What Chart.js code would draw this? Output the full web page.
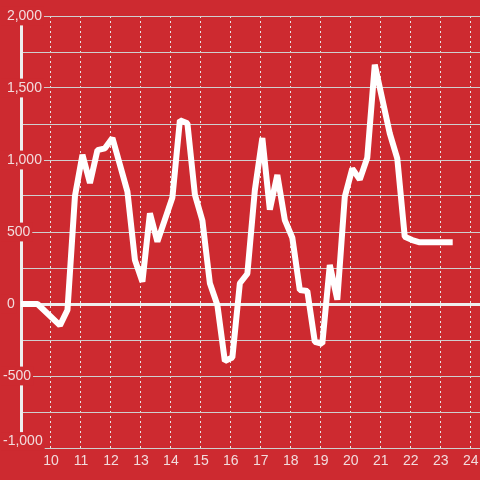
<!DOCTYPE html>
<html>
<head>
<meta charset="utf-8">
<script src="https://cdn.jsdelivr.net/npm/chart.js@4"></script>
<style>
html,body{margin:0;padding:0;background:#cd2a30;}
#wrap{width:480px;height:480px;}
</style>
</head>
<body>
<div id="wrap"><canvas id="c" width="480" height="480"></canvas></div>
<script>
// Data
const xValues = [8.9, 9.55, 10.3, 10.55, 10.8, 11.05, 11.3, 11.55, 11.8, 12.05, 12.55, 12.8, 13.05, 13.3, 13.55, 14.05, 14.3, 14.55, 14.8, 15.05, 15.3, 15.55, 15.8, 16.05, 16.3, 16.55, 16.8, 17.05, 17.3, 17.55, 17.8, 18.05, 18.3, 18.55, 18.8, 19.05, 19.3, 19.55, 19.8, 20.05, 20.3, 20.55, 20.8, 21.3, 21.55, 21.8, 22.05, 22.3, 23.4];
const yValues = [0, 0, -148, -42, 750, 1037, 840, 1069, 1081, 1153, 780, 306, 155, 630, 433, 740, 1276, 1255, 760, 580, 144, -7, -396, -372, 144, 210, 790, 1153, 655, 896, 583, 460, 97, 90, -262, -276, 271, 30, 745, 940, 865, 1015, 1662, 1185, 1012, 467, 444, 428, 428];
const xTickValues = [10, 11, 12, 13, 14, 15, 16, 17, 18, 19, 20, 21, 22, 23, 24];
const xTickLabels = ['10', '11', '12', '13', '14', '15', '16', '17', '18', '19', '20', '21', '22', '23', '24'];
const yTickValues = [-1000, -500, 0, 500, 1000, 1500, 2000];
const yTickLabels = ['-1,000', '-500', '0', '500', '1,000', '1,500', '2,000'];

const BG = '#cd2a30';
const LABEL = '#f2dcdd';
const FONT = 'Liberation Sans, Arial, sans-serif';

function yLabel(v) {
  const i = yTickValues.indexOf(v);
  if (i < 0) return '';
  const t = yTickLabels[i];
  return v < 0 ? t : ' ' + t;
}
function isLabelled(ctx) { return ctx.tick && yTickValues.indexOf(ctx.tick.value) >= 0; }

// lift the lowest y label a little so it sits above the bottom edge, as in the reference
const liftBottomLabel = {
  id: 'liftBottomLabel',
  beforeDraw(chart) {
    const s = chart.scales.y;
    const items = s.getLabelItems(chart.chartArea);
    items.forEach(it => {
      if (it.label === yTickLabels[0] && !it._lifted) {
        it.options.translation[1] -= 6.5;
        it._lifted = true;
      }
    });
  }
};

new Chart(document.getElementById('c'), {
  type: 'line',
  data: {
    datasets: [{
      data: xValues.map((x, i) => ({x: x, y: yValues[i]})),
      borderColor: '#ffffff',
      borderWidth: 6,
      borderJoinStyle: 'bevel',
      borderCapStyle: 'butt',
      pointRadius: 0,
      tension: 0,
      fill: false
    }]
  },
  options: {
    responsive: false,
    animation: false,
    layout: {padding: {left: 3, top: 16, right: 0, bottom: 0}},
    plugins: {legend: {display: false}, tooltip: {enabled: false}},
    scales: {
      x: {
        type: 'linear',
        min: 9,
        max: 24.31,
        afterBuildTicks: s => { s.ticks = xTickValues.map(v => ({value: v})); },
        afterFit: s => { s.height = 32; s.paddingLeft = 0; s.paddingRight = 0; },
        grid: {color: '#e6e6e6', lineWidth: 1, drawTicks: false},
        border: {display: false, dash: [2, 3]},
        ticks: {
          padding: 5, color: LABEL, autoSkip: false, maxRotation: 0,
          font: {family: FONT, size: 14},
          callback: v => { const i = xTickValues.indexOf(v); return i >= 0 ? xTickLabels[i] : ''; }
        }
      },
      y: {
        min: -1000,
        max: 2000,
        afterFit: s => { s.width = 18; s.paddingTop = 0; s.paddingBottom = 0; },
        grid: {
          color: ctx => (ctx.tick && ctx.tick.value === 0) ? '#eeeeee' : '#cfcfcf',
          lineWidth: ctx => (ctx.tick && ctx.tick.value === 0) ? 3 : 1,
          drawTicks: false
        },
        border: {display: true, color: '#eeeeee', width: 3},
        ticks: {
          stepSize: 250,
          mirror: true,
          crossAlign: 'near',
          padding: -18,
          z: 1,
          color: LABEL,
          font: {family: FONT, size: 14},
          callback: v => yLabel(v),
          showLabelBackdrop: ctx => isLabelled(ctx),
          backdropColor: BG,
          backdropPadding: {left: 2, right: 2, top: 1, bottom: 1}
        }
      }
    }
  },
  plugins: [liftBottomLabel]
});
</script>
</body>
</html>
